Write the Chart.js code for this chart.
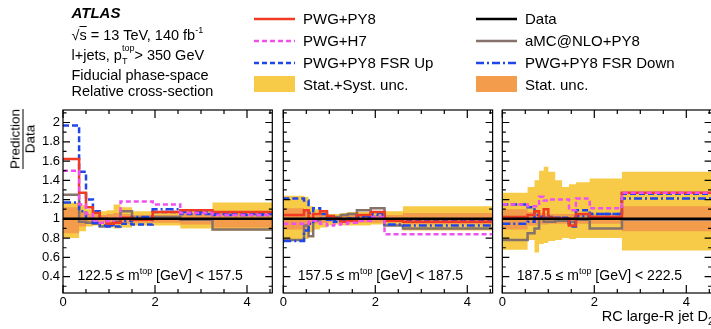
<!DOCTYPE html>
<html>
<head>
<meta charset="utf-8">
<script src="https://cdn.jsdelivr.net/npm/chart.js@4.4.1/dist/chart.umd.min.js"></script>
<style>
    html, body { margin: 0; padding: 0; background: #fff; overflow: hidden; }
    #wrap { position: relative; width: 711px; height: 329px; overflow: hidden;
            font-family: "Liberation Sans", Arial, Helvetica, sans-serif; color: #000; }
    canvas { position: absolute; left: 0; top: 0; }
    .t { position: absolute; white-space: nowrap; line-height: 1; }
    .hdr { left: 71.5px; font-size: 14.5px; }
    .leg { font-size: 15px; }
    .sw { position: absolute; }
    .sup { position: relative; font-size: 9px; top: -7px; }
    .sp { position: relative; font-size: 9px; top: -9px; }
    .sb { position: relative; font-size: 9px; top: 4px; margin-left: -12.5px; margin-right: 7px; }
    .slice { font-size: 14px; top: 268px; }
    #ylab { position: absolute; left: 23px; top: 139px; transform: translate(-50%, -50%) rotate(-90deg);
            font-size: 13.5px; line-height: 12px; text-align: center; white-space: nowrap; }
    #ylab .num { border-bottom: 1px solid #000; padding-bottom: 1px; }
    #ylab .den { padding-top: 1px; }
</style>
</head>
<body>
<div id="wrap">
    <canvas id="panel0" width="720" height="329"></canvas>
    <canvas id="panel1" width="720" height="329"></canvas>
    <canvas id="panel2" width="720" height="329"></canvas>

    <div class="t" style="left:71.5px; top:5.3px; font-size:15px; font-weight:bold; font-style:italic">ATLAS</div>
    <div class="t hdr" style="top:27.7px">√<span style="text-decoration:overline">s</span> = 13 TeV, 140 fb<span class="sup">-1</span></div>
    <div class="t hdr" style="top:47.7px">l+jets, p<span class="sp">top</span><span class="sb">T</span>&gt; 350 GeV</div>
    <div class="t hdr" style="top:67.7px">Fiducial phase-space</div>
    <div class="t hdr" style="top:83.7px">Relative cross-section</div>

    <svg class="sw" style="left:254px; top:10.5px" width="41" height="16"><line x1="0" y1="8" x2="41" y2="8" stroke="#f03a24" stroke-width="2.5"/></svg>
    <div class="t leg" style="left:303px; top:11.2px">PWG+PY8</div>
    <svg class="sw" style="left:254px; top:32.5px" width="41" height="16"><line x1="0" y1="8" x2="41" y2="8" stroke="#f050f0" stroke-width="2.5" stroke-dasharray="5 3"/></svg>
    <div class="t leg" style="left:303px; top:33.2px">PWG+H7</div>
    <svg class="sw" style="left:254px; top:54.5px" width="41" height="16"><line x1="0" y1="8" x2="41" y2="8" stroke="#1e46e8" stroke-width="2.5" stroke-dasharray="5 3"/></svg>
    <div class="t leg" style="left:303px; top:55.2px">PWG+PY8 FSR Up</div>
    <svg class="sw" style="left:254px; top:76px" width="41" height="16"><rect x="0" y="0" width="41" height="16" fill="#f7cb47"/></svg>
    <div class="t leg" style="left:303px; top:76.7px">Stat.+Syst. unc.</div>

    <svg class="sw" style="left:476px; top:10.5px" width="41" height="16"><line x1="0" y1="8" x2="41" y2="8" stroke="#000" stroke-width="2.5"/></svg>
    <div class="t leg" style="left:525px; top:11.2px">Data</div>
    <svg class="sw" style="left:476px; top:32.5px" width="41" height="16"><line x1="0" y1="8" x2="41" y2="8" stroke="#85726a" stroke-width="2.5"/></svg>
    <div class="t leg" style="left:525px; top:33.2px">aMC@NLO+PY8</div>
    <svg class="sw" style="left:476px; top:54.5px" width="41" height="16"><line x1="0" y1="8" x2="41" y2="8" stroke="#1e46e8" stroke-width="2.5" stroke-dasharray="8 3 2 3"/></svg>
    <div class="t leg" style="left:525px; top:55.2px">PWG+PY8 FSR Down</div>
    <svg class="sw" style="left:476px; top:76px" width="41" height="16"><rect x="0" y="0" width="41" height="16" fill="#f29c4c"/></svg>
    <div class="t leg" style="left:525px; top:76.7px">Stat. unc.</div>

    <div id="ylab"><div class="num">Prediction</div><div class="den">Data</div></div>
    <div class="t" style="right:-2.6px; top:309.4px; font-size:14.5px">RC large-R jet D<span style="position:relative; top:4px; font-size:10px">2</span></div>
</div>

<script>
// top-mass slices, one panel each
const massLow = [122.5, 157.5, 187.5]
const massHigh = [157.5, 187.5, 222.5]

// D2 bin edges per slice
const edgesLow = [0, 0.35, 0.5, 0.65, 0.8, 0.95, 1.1, 1.25, 1.5, 1.95, 2.55, 3.25, 4.55]
const edgesMid = [0, 0.45, 0.55, 0.65, 0.8, 0.95, 1.1, 1.25, 1.4, 1.6, 1.9, 2.2, 2.6, 4.55]
const edgesHigh = [0, 0.55, 0.7, 0.8, 0.9, 1.0, 1.15, 1.3, 1.45, 1.6, 1.9, 2.6, 4.55]

// prediction / data, 122.5 - 157.5 GeV
const pwgPy8Low = [1.62, 1.27, 1.12, 1.06, 1.00, 0.95, 0.96, 1.01, 0.99, 1.07, 1.09, 1.07]
const pwgH7Low = [1.50, 1.15, 1.05, 0.98, 0.96, 0.98, 1.00, 1.18, 1.18, 1.15, 1.06, 1.04]
const fsrUpLow = [1.97, 1.49, 1.20, 1.08, 1.00, 0.93, 0.92, 0.95, 0.94, 1.07, 1.05, 1.05]
const fsrDownLow = [1.17, 1.08, 1.00, 0.96, 0.93, 0.92, 0.96, 0.98, 1.02, 1.10, 1.07, 1.04]
const amcLow = [1.25, 0.97, 0.96, 0.95, 0.92, 0.95, 0.97, 1.08, 1.01, 1.02, 0.99, 0.89]
const totUpLow = [1.17, 1.14, 1.10, 1.08, 1.08, 1.09, 1.15, 1.12, 1.08, 1.07, 1.10, 1.17]
const totDownLow = [0.80, 0.87, 0.92, 0.93, 0.92, 0.91, 0.90, 0.91, 0.93, 0.93, 0.90, 0.88]
const statUpLow = [1.12, 1.08, 1.05, 1.04, 1.04, 1.05, 1.06, 1.05, 1.04, 1.04, 1.06, 1.07]
const statDownLow = [0.85, 0.92, 0.95, 0.96, 0.96, 0.95, 0.94, 0.95, 0.96, 0.96, 0.94, 0.91]

// prediction / data, 157.5 - 187.5 GeV
const pwgPy8Mid = [1.04, 1.09, 1.00, 1.05, 1.08, 1.03, 1.00, 0.97, 0.98, 1.04, 1.07, 0.98, 0.97]
const pwgH7Mid = [0.95, 0.95, 0.97, 0.98, 0.95, 0.93, 0.94, 0.95, 0.96, 0.98, 1.02, 0.84, 0.84]
const fsrUpMid = [1.21, 1.19, 1.06, 1.11, 1.05, 1.00, 0.97, 0.98, 1.00, 1.03, 1.06, 0.99, 0.99]
const fsrDownMid = [0.77, 0.88, 0.95, 0.99, 1.00, 0.99, 0.98, 0.99, 1.00, 1.02, 1.04, 0.94, 0.93]
const amcMid = [0.78, 0.93, 0.82, 0.98, 1.00, 1.00, 1.02, 1.04, 1.05, 1.09, 1.11, 0.93, 0.90]
const totUpMid = [1.24, 1.23, 1.13, 1.10, 1.07, 1.05, 1.05, 1.06, 1.07, 1.07, 1.06, 1.08, 1.13]
const totDownMid = [0.77, 0.79, 0.86, 0.89, 0.91, 0.93, 0.94, 0.93, 0.93, 0.93, 0.94, 0.93, 0.88]
const statUpMid = [1.11, 1.10, 1.06, 1.05, 1.04, 1.03, 1.03, 1.03, 1.04, 1.04, 1.04, 1.04, 1.06]
const statDownMid = [0.89, 0.90, 0.94, 0.95, 0.96, 0.97, 0.97, 0.97, 0.96, 0.96, 0.96, 0.96, 0.94]

// prediction / data, 187.5 - 222.5 GeV
const pwgPy8High = [1.02, 1.04, 1.08, 1.00, 1.10, 1.01, 1.00, 1.00, 0.93, 1.05, 1.02, 1.27]
const pwgH7High = [1.15, 1.13, 1.13, 1.23, 1.19, 1.20, 1.20, 1.20, 1.09, 1.21, 1.11, 1.27]
const fsrUpHigh = [1.15, 1.12, 1.00, 1.02, 1.03, 1.02, 1.00, 1.01, 0.92, 1.09, 1.05, 1.26]
const fsrDownHigh = [0.95, 0.97, 1.04, 1.02, 1.01, 1.00, 1.01, 1.00, 0.95, 1.03, 1.05, 1.21]
const amcHigh = [0.78, 0.85, 0.90, 1.00, 0.97, 0.97, 0.98, 0.98, 0.97, 0.99, 0.90, 0.99]
const totUpHigh = [1.27, 1.33, 1.40, 1.50, 1.54, 1.49, 1.40, 1.33, 1.36, 1.38, 1.42, 1.49]
const totDownHigh = [0.68, 0.78, 0.65, 0.74, 0.75, 0.77, 0.78, 0.80, 0.79, 0.80, 0.80, 0.67]
const statUpHigh = [1.10, 1.07, 1.07, 1.06, 1.06, 1.05, 1.05, 1.05, 1.05, 1.05, 1.05, 1.13]
const statDownHigh = [0.89, 0.93, 0.93, 0.94, 0.94, 0.95, 0.95, 0.95, 0.95, 0.95, 0.95, 0.87]

const panels = [
    { edges: edgesLow, pwgPy8: pwgPy8Low, pwgH7: pwgH7Low, fsrUp: fsrUpLow, fsrDown: fsrDownLow,
      amc: amcLow, totUp: totUpLow, totDown: totDownLow, statUp: statUpLow, statDown: statDownLow },
    { edges: edgesMid, pwgPy8: pwgPy8Mid, pwgH7: pwgH7Mid, fsrUp: fsrUpMid, fsrDown: fsrDownMid,
      amc: amcMid, totUp: totUpMid, totDown: totDownMid, statUp: statUpMid, statDown: statDownMid },
    { edges: edgesHigh, pwgPy8: pwgPy8High, pwgH7: pwgH7High, fsrUp: fsrUpHigh, fsrDown: fsrDownHigh,
      amc: amcHigh, totUp: totUpHigh, totDown: totDownHigh, statUp: statUpHigh, statDown: statDownHigh }
]

// panel geometry on the canvas
const CANVAS_W = 720
const CANVAS_H = 329
const PANEL_LEFT = [63, 283.3, 502.3]
const PANEL_W = 209.3
const PANEL_TOP = 110
const PANEL_BOTTOM = 293
const AXIS_W = 40

const colors = {
    red: "#f03a24", pink: "#f050f0", blue: "#1e46e8", gray: "#85726a",
    yellow: "#f7cb47", orange: "#f29c4c"
}

Chart.defaults.font.family = "\"Liberation Sans\", Arial, Helvetica, sans-serif"
Chart.defaults.font.size = 13
Chart.defaults.color = "#000"

// histogram as step points: one point per lower edge plus the closing edge
const steps = (edges, vals) => edges.map((x, i) => ({ x, y: vals[Math.min(i, vals.length - 1)] }))

// ATLAS-style box with inward ticks on all four sides
const insideTicks = {
    id: "insideTicks",
    afterDatasetsDraw(chart) {
        const { ctx, chartArea: area } = chart
        const { x, y } = chart.scales
        ctx.save()
        ctx.strokeStyle = "#000"
        ctx.lineWidth = 1.2
        ctx.beginPath()
        for (let k = 0; k * 0.5 <= x.max; k++) {
            const px = x.getPixelForValue(k * 0.5)
            const len = k % 4 === 0 ? 8 : 4
            ctx.moveTo(px, area.bottom)
            ctx.lineTo(px, area.bottom - len)
            ctx.moveTo(px, area.top)
            ctx.lineTo(px, area.top + len)
        }
        for (let k = Math.ceil(y.min * 10); k <= Math.floor(y.max * 10); k++) {
            const py = y.getPixelForValue(k / 10)
            const len = k % 2 === 0 ? 7 : 3.5
            ctx.moveTo(area.left, py)
            ctx.lineTo(area.left + len, py)
            ctx.moveTo(area.right, py)
            ctx.lineTo(area.right - len, py)
        }
        ctx.stroke()
        ctx.strokeRect(area.left, area.top, area.right - area.left, area.bottom - area.top)
        ctx.restore()
    }
}

function panelDatasets(p) {
    const line = (label, vals, color, dash, order) => ({
        label, data: steps(p.edges, vals), borderColor: color, borderWidth: 2.5,
        borderDash: dash, stepped: "before", pointRadius: 0, fill: false, order
    })
    const band = (label, vals, color, fill, order) => ({
        label, data: steps(p.edges, vals), borderWidth: 0, borderColor: "transparent",
        backgroundColor: color, stepped: "before", pointRadius: 0, fill, order
    })
    return [
        band("Stat.+Syst. unc.", p.totUp, colors.yellow, "+1", 20),
        band("", p.totDown, colors.yellow, false, 20),
        band("Stat. unc.", p.statUp, colors.orange, "+1", 19),
        band("", p.statDown, colors.orange, false, 19),
        line("aMC@NLO+PY8", p.amc, colors.gray, [], 6),
        line("PWG+PY8 FSR Down", p.fsrDown, colors.blue, [8, 3, 2, 3], 5),
        line("PWG+PY8 FSR Up", p.fsrUp, colors.blue, [6, 3], 4),
        line("PWG+PY8", p.pwgPy8, colors.red, [], 3),
        line("PWG+H7", p.pwgH7, colors.pink, [5, 3], 2),
        // data over data is unity in every bin
        line("Data", p.edges.map(() => 1), "#000", [], 1)
    ]
}

const wrap = document.getElementById("wrap")

panels.forEach((p, i) => {
    const left = PANEL_LEFT[i]
    const chart = new Chart(document.getElementById("panel" + i), {
        type: "line",
        data: { datasets: panelDatasets(p) },
        options: {
            responsive: false,
            animation: false,
            events: [],
            layout: {
                padding: { left: left - AXIS_W, right: CANVAS_W - left - PANEL_W, top: PANEL_TOP, bottom: 0 }
            },
            plugins: { legend: { display: false }, tooltip: { enabled: false } },
            scales: {
                x: {
                    type: "linear", min: 0, max: 4.55,
                    grid: { display: false, drawTicks: false },
                    border: { display: false },
                    ticks: { stepSize: 2, includeBounds: false, padding: 2, maxRotation: 0 },
                    afterFit: scale => { scale.height = CANVAS_H - PANEL_BOTTOM }
                },
                y: {
                    min: 0.23, max: 2.13,
                    grid: { display: false, drawTicks: false },
                    border: { display: false },
                    ticks: {
                        display: i === 0, stepSize: 0.2, includeBounds: false, padding: 3,
                        callback: v => String(+v.toFixed(1))
                    },
                    afterFit: scale => { scale.width = AXIS_W }
                }
            }
        },
        plugins: [insideTicks]
    })

    // mass-slice caption inside the panel
    const cap = document.createElement("div")
    cap.className = "t slice"
    cap.style.left = (chart.chartArea.left + 14.5) + "px"
    cap.innerHTML = massLow[i] + " ≤ m<span class=\"sp\" style=\"top:-6px\">top</span> [GeV] &lt; " + massHigh[i]
    wrap.appendChild(cap)
})
</script>
</body>
</html>
